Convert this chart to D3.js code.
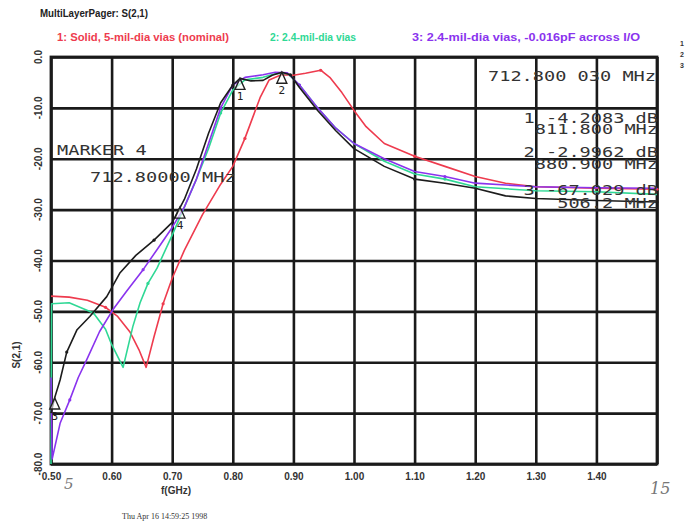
<!DOCTYPE html>
<html>
<head>
<meta charset="utf-8">
<script src="https://cdn.jsdelivr.net/npm/d3@7"></script>
<style>
  body { margin: 0; background: #fff; }
  svg { display: block; }
</style>
</head>
<body>
<script>
// frequency in GHz, S(2,1) in dB
var redTrace = [[0.50,-47],[0.53,-47.2],[0.56,-47.8],[0.59,-49.2],[0.61,-51],[0.63,-54],[0.645,-57.5],[0.657,-61],
  [0.67,-55],[0.685,-48.5],[0.70,-43.5],[0.72,-38],[0.75,-31],[0.78,-25],[0.80,-21.5],[0.82,-16],[0.845,-8],
  [0.86,-4.5],[0.88,-3.5],[0.90,-3.6],[0.92,-3.2],[0.945,-2.6],[0.96,-4],[0.98,-7],[1.00,-10.5],[1.02,-13.7],
  [1.05,-17],[1.10,-19.5],[1.15,-21.5],[1.20,-23.5],[1.25,-24.8],[1.30,-25.5],[1.40,-25.8],[1.50,-26]];
var greenTrace = [[0.50,-80],[0.501,-48.5],[0.53,-48.3],[0.57,-50.3],[0.59,-53.5],[0.60,-56.5],[0.619,-61],
  [0.635,-53],[0.647,-48.3],[0.66,-44.5],[0.675,-41.5],[0.70,-35],[0.72,-29.5],[0.74,-24],[0.76,-18],[0.78,-11],
  [0.80,-6.5],[0.82,-4.5],[0.85,-4],[0.87,-3.3],[0.89,-3.2],[0.91,-5.5],[0.94,-10],[0.97,-14],[1.00,-17],
  [1.05,-20.5],[1.10,-23],[1.15,-24],[1.20,-25.5],[1.30,-26.3],[1.40,-26.5],[1.50,-27]];
var purpleTrace = [[0.50,-63],[0.502,-79],[0.515,-72],[0.531,-67.4],[0.545,-63],[0.559,-59.5],[0.58,-54],
  [0.602,-49.7],[0.625,-46],[0.652,-41.8],[0.68,-37],[0.70,-33.5],[0.72,-29.5],[0.74,-24],[0.76,-17],[0.78,-10],
  [0.80,-5.5],[0.82,-4],[0.85,-3.5],[0.87,-3],[0.89,-3.1],[0.91,-5.5],[0.94,-10],[0.97,-14],[1.00,-17],
  [1.05,-20],[1.10,-22.5],[1.15,-23.5],[1.20,-24.8],[1.30,-25.5],[1.40,-25.7],[1.50,-25.8]];
var blackTrace = [[0.50,-70],[0.506,-67],[0.515,-63.5],[0.526,-58],[0.543,-53.6],[0.564,-51],[0.592,-47.1],
  [0.614,-42.4],[0.64,-39],[0.67,-36],[0.70,-32.5],[0.72,-28],[0.74,-22],[0.76,-15],[0.78,-9],[0.80,-5.5],
  [0.812,-4.2],[0.83,-4.7],[0.85,-4.6],[0.865,-3.6],[0.881,-3.0],[0.895,-3.5],[0.91,-6],[0.94,-10.5],
  [0.97,-14.5],[1.00,-18],[1.05,-21.5],[1.10,-24],[1.15,-24.8],[1.20,-25.8],[1.25,-27.3],[1.30,-27.8],
  [1.40,-28.2],[1.50,-28.5]];

var xTicks = [0.5,0.6,0.7,0.8,0.9,1.0,1.1,1.2,1.3,1.4,1.5];
var xTickLabels = ["0.50","0.60","0.70","0.80","0.90","1.00","1.10","1.20","1.30","1.40",""];
var yTicks = [0,-10,-20,-30,-40,-50,-60,-70,-80];
var yTickLabels = ["0.0","-10.0","-20.0","-30.0","-40.0","-50.0","-60.0","-70.0","-80.0"];

var legendNames = ["1: Solid, 5-mil-dia vias (nominal)", "2: 2.4-mil-dia vias", "3: 2.4-mil-dia vias, -0.016pF across I/O"];
var legendColors = ["#ee3b4e", "#2fd895", "#8a33ee"];

// markers: number, freq, dB
var markers = [[1,0.8118,-4.2083],[2,0.8809,-2.9962],[3,0.5062,-67.029],[4,0.7128,-29.5]];
var markerLines = [["712.800 030 MHz"],["1 -4.2083 dB","811.800 MHz"],["2 -2.9962 dB","880.900 MHz"],["3 -67.029 dB","506.2 MHz"]];

var W = 686, H = 523;
var mLeft = 51, mRight = 657, mTop = 57, mBottom = 464;
var charW = 11.2;

var svg = d3.select("body").append("svg").attr("width", W).attr("height", H);

var x = d3.scaleLinear().domain([0.5, 1.5]).range([mLeft, mRight]);
var y = d3.scaleLinear().domain([0, -80]).range([mTop, mBottom]);

// title + legend
svg.append("text").attr("x", 40).attr("y", 17)
   .attr("font-family", "Liberation Sans, Arial").attr("font-size", 10.5).attr("font-weight", "bold")
   .attr("fill", "#222").attr("textLength", 108).attr("lengthAdjust", "spacingAndGlyphs")
   .text("MultiLayerPager: S(2,1)");

var legX = [57, 270, 412];
var legLen = [172, 86, 228];
legendNames.forEach(function(n, i) {
    svg.append("text").attr("x", legX[i]).attr("y", 41)
       .attr("font-family", "Liberation Sans, Arial").attr("font-size", 10).attr("font-weight", "bold")
       .attr("fill", legendColors[i]).attr("textLength", legLen[i]).attr("lengthAdjust", "spacingAndGlyphs")
       .text(n);
});
["1","2","3"].forEach(function(t, i) {
    svg.append("text").attr("x", 680).attr("y", 46 + i * 11)
       .attr("font-family", "Liberation Sans, Arial").attr("font-size", 7).attr("font-weight", "bold")
       .attr("fill", "#333").text(t);
});

// grid via axes
svg.append("g").attr("class", "xgrid")
   .attr("transform", "translate(0," + mBottom + ")")
   .call(d3.axisBottom(x).tickValues(xTicks).tickSize(-(mBottom - mTop)).tickPadding(9)
         .tickFormat(function(d, i) { return xTickLabels[i]; }));

svg.append("g").attr("class", "ygrid")
   .attr("transform", "translate(" + mLeft + ",0)")
   .call(d3.axisLeft(y).tickValues(yTicks).tickSize(-(mRight - mLeft)).tickFormat(""));

svg.selectAll(".xgrid line, .ygrid line").attr("stroke", "#1a1a1a").attr("stroke-width", 2.6);
svg.selectAll(".xgrid .domain, .ygrid .domain").remove();
svg.selectAll(".xgrid text")
   .attr("font-family", "Liberation Sans, Arial").attr("font-size", 10).attr("font-weight", "bold")
   .attr("fill", "#333");

// y tick labels rotated
yTicks.forEach(function(v, i) {
    svg.append("text")
       .attr("transform", "translate(" + 42 + "," + y(v) + ") rotate(-90)")
       .attr("text-anchor", "middle")
       .attr("font-family", "Liberation Sans, Arial").attr("font-size", 10).attr("font-weight", "bold")
       .attr("fill", "#333").text(yTickLabels[i]);
});

// frame
svg.append("rect").attr("x", mLeft).attr("y", mTop).attr("width", mRight - mLeft).attr("height", mBottom - mTop)
   .attr("fill", "none").attr("stroke", "#1a1a1a").attr("stroke-width", 2.8);

// axis titles
svg.append("text").attr("x", 176).attr("y", 494).attr("text-anchor", "middle")
   .attr("font-family", "Liberation Sans, Arial").attr("font-size", 10).attr("font-weight", "bold")
   .attr("fill", "#333").text("f(GHz)");
svg.append("text").attr("transform", "translate(20,355) rotate(-90)").attr("text-anchor", "middle")
   .attr("font-family", "Liberation Sans, Arial").attr("font-size", 10).attr("font-weight", "bold")
   .attr("fill", "#333").text("S(2,1)");
svg.append("text").attr("x", 122).attr("y", 519)
   .attr("font-family", "Liberation Serif, Times").attr("font-size", 8)
   .attr("fill", "#333").text("Thu Apr 16 14:59:25 1998");

// handwriting
svg.append("text").attr("x", 64).attr("y", 489).attr("font-family", "DejaVu Serif").attr("font-style", "italic")
   .attr("font-size", 15).attr("fill", "#777").text("5");
svg.append("text").attr("x", 650).attr("y", 494).attr("font-family", "DejaVu Serif").attr("font-style", "italic")
   .attr("font-size", 16).attr("fill", "#777").text("15");

// traces
var line = d3.line().x(function(d) { return x(d[0]); }).y(function(d) { return y(d[1]); })
             .curve(d3.curveLinear);
var traces = [[redTrace, legendColors[0]], [greenTrace, legendColors[1]], [purpleTrace, legendColors[2]], [blackTrace, "#1c1c1c"]];
traces.forEach(function(t) {
    svg.append("path").datum(t[0]).attr("d", line)
       .attr("fill", "none").attr("stroke", t[1]).attr("stroke-width", 1.6)
       .attr("stroke-linejoin", "round");
    // small dot markers along trace
    svg.selectAll(null).data(t[0].filter(function(d, i) { return i % 6 == 3; })).enter()
       .append("circle").attr("cx", function(d) { return x(d[0]); }).attr("cy", function(d) { return y(d[1]); })
       .attr("r", 1.6).attr("fill", t[1]);
});

// marker triangles
markers.forEach(function(m) {
    var px = x(m[1]), py = y(m[2]);
    svg.append("path")
       .attr("d", "M" + px + "," + py + " l-5,11 l10,0 z")
       .attr("fill", "#fff").attr("fill-opacity", 0.6).attr("stroke", "#222").attr("stroke-width", 1.4);
    svg.append("text").attr("x", px).attr("y", py + 22).attr("text-anchor", "middle")
       .attr("font-family", "DejaVu Sans Mono").attr("font-size", 11).attr("fill", "#222").text(m[0]);
});

// marker readout text (wide plotter monospace)
var mono = "DejaVu Sans Mono, Liberation Mono";
function monoText(str, px, py, anchor) {
    var w = str.length * charW;
    svg.append("text").attr("x", anchor == "end" ? px - w : px).attr("y", py)
       .attr("font-family", mono).attr("font-size", 14).attr("fill", "#333")
       .attr("textLength", w).attr("lengthAdjust", "spacingAndGlyphs").text(str);
}
monoText(markerLines[0][0], 656, 81, "end");
var rows = [[123, 134], [157, 169], [195, 208]];
for (var i = 1; i < 4; i++) {
    monoText(markerLines[i][0], 658, rows[i - 1][0], "end");
    monoText(markerLines[i][1], 658, rows[i - 1][1], "end");
}
monoText("MARKER 4", 57, 155, "start");
monoText("712.80000 MHz", 90, 182, "start");
</script>
</body>
</html>
